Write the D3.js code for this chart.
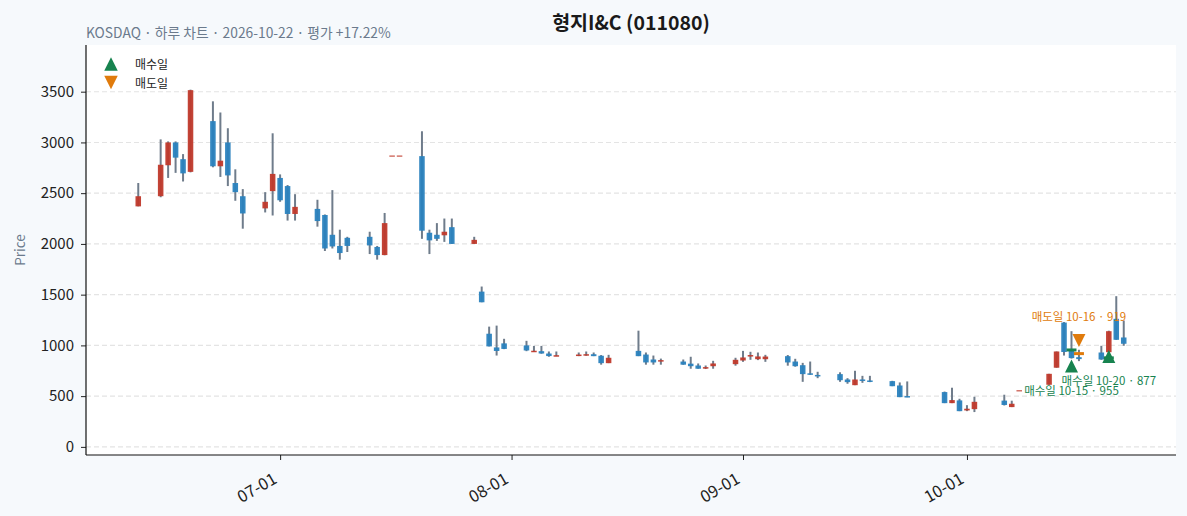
<!DOCTYPE html>
<html><head><meta charset="utf-8">
<script src="https://cdn.jsdelivr.net/npm/d3@7"></script>
<style>
html,body{margin:0;padding:0;background:#f6f9fc;}
svg{display:block;}
text{font-family:"Noto Sans CJK KR","Noto Sans",sans-serif;}
</style></head>
<body>
<svg id="chart" width="1187" height="516"></svg>
<script>
// ---- data ----
const dates = ["2026-06-12","2026-06-15","2026-06-16","2026-06-17","2026-06-18","2026-06-19","2026-06-22","2026-06-23","2026-06-24","2026-06-25","2026-06-26","2026-06-29","2026-06-30",
"2026-07-01","2026-07-02","2026-07-03","2026-07-06","2026-07-07","2026-07-08","2026-07-09","2026-07-10","2026-07-13","2026-07-14","2026-07-15","2026-07-16","2026-07-17","2026-07-20","2026-07-21","2026-07-22","2026-07-23","2026-07-24","2026-07-27","2026-07-28","2026-07-29","2026-07-30","2026-07-31",
"2026-08-03","2026-08-04","2026-08-05","2026-08-06","2026-08-07","2026-08-10","2026-08-11","2026-08-12","2026-08-13","2026-08-14","2026-08-18","2026-08-19","2026-08-20","2026-08-21","2026-08-24","2026-08-25","2026-08-26","2026-08-27","2026-08-28","2026-08-31",
"2026-09-01","2026-09-02","2026-09-03","2026-09-04","2026-09-07","2026-09-08","2026-09-09","2026-09-10","2026-09-11","2026-09-14","2026-09-15","2026-09-16","2026-09-17","2026-09-18","2026-09-21","2026-09-22","2026-09-23","2026-09-28","2026-09-29","2026-09-30",
"2026-10-01","2026-10-02","2026-10-06","2026-10-07","2026-10-08","2026-10-12","2026-10-13","2026-10-14","2026-10-15","2026-10-16","2026-10-19","2026-10-20","2026-10-21","2026-10-22"];
const open  = [2370,2470,2775,3000,2835,2710,3210,2765,3000,2600,2470,2350,2520,
2650,2570,2295,2345,2285,2090,1980,2060,2070,1970,1890,2865,2865,2865,2110,2090,2085,2165,2000,1530,1115,980,1020,
1000,938,943,920,894,895,900,913,898,825,946,910,861,845,841,820,802,776,795,815,
851,895,864,864,894,841,805,723,704,717,664,608,664,654,648,605,497,540,431,458,
359,372,456,392,553,612,780,1225,950,884,930,933,1262,1078];
const high  = [2600,3030,3010,3010,2885,3520,3405,3295,3140,2735,2540,2510,3090,
2685,2580,2490,2435,2290,2530,2140,2070,2120,1980,2305,2865,2865,3110,2140,2205,2250,2250,2070,1580,1185,1195,1065,
1045,995,995,940,940,930,940,930,905,907,1145,930,900,870,861,888,822,802,848,878,
946,937,930,907,905,868,828,841,740,735,677,750,700,700,651,635,645,545,583,474,
411,494,514,455,553,720,940,1230,1140,957,996,1145,1485,1245];
const low   = [2370,2460,2650,2700,2615,2705,2755,2660,2570,2425,2150,2310,2280,
2415,2230,2230,2170,1930,1955,1845,1920,1900,1845,1888,2865,2865,2050,1900,2030,2020,2000,2000,1425,990,900,963,
943,937,918,888,894,894,898,894,810,825,894,810,810,810,809,770,770,767,770,800,
838,858,855,838,800,790,641,710,677,641,622,608,631,638,598,490,490,431,431,352,
352,343,408,392,553,612,780,900,870,845,858,920,1055,996];
const close = [2470,2780,3000,2850,2695,3515,2765,2820,2675,2510,2300,2415,2690,
2430,2295,2365,2225,1955,1975,1910,1980,1985,1890,2205,2865,2865,2130,2035,2050,2120,2000,2040,1425,990,945,965,
950,942,920,895,898,910,912,894,825,878,894,832,832,850,810,795,770,781,822,858,
881,900,891,890,832,795,717,712,699,657,638,664,650,640,598,490,490,431,461,352,
376,444,413,425,553,720,940,935,875,865,861,1140,1055,1016];

const buyDates = ["2026-10-15","2026-10-20"];
const buyPrices = [955, 877];
const buyMarkerY = [797, 891];
const sellDates = ["2026-10-16"];
const sellPrices = [919];
const sellMarkerY = [1048];

const yTicks = [0,500,1000,1500,2000,2500,3000,3500];
const xTicks = ["2026-07-01","2026-08-01","2026-09-01","2026-10-01"];
const xDomain = ["2026-06-05","2026-10-29"];
const yDomain = [-80, 3960];

const title = "형지I&C (011080)";
const subtitle = "KOSDAQ · 하루 차트 · 2026-10-22 · 평가 +17.22%";

// ---- layout ----
const W = 1187, H = 516;
const M = {left:86, right:1176, top:45, bottom:455};
const UP = "#c0392b", DOWN = "#2a82be", WICK = "#6f7c8b";
const GREEN = "#17834f", ORANGE = "#e07b0c";

const parse = d3.utcParse("%Y-%m-%d");
const svg = d3.select("#chart");

svg.append("rect").attr("x",0).attr("y",0).attr("width",W).attr("height",H).attr("fill","#f6f9fc");
svg.append("rect").attr("x",M.left).attr("y",M.top).attr("width",M.right-M.left).attr("height",M.bottom-M.top).attr("fill","#ffffff");

const x = d3.scaleUtc().domain(xDomain.map(parse)).range([M.left, M.right]);
const y = d3.scaleLinear().domain(yDomain).range([M.bottom, M.top]);
const dayPx = x(parse("2026-06-06")) - x(parse("2026-06-05"));
const bw = dayPx * 0.74;

// grid
svg.append("g").selectAll("line").data(yTicks).join("line")
  .attr("x1",M.left).attr("x2",M.right)
  .attr("y1",d=>y(d)).attr("y2",d=>y(d))
  .attr("stroke","#e4e4e4").attr("stroke-width",1.1).attr("stroke-dasharray","5,3");

const candles = dates.map((d,i)=>({date:parse(d),o:open[i],h:high[i],l:low[i],c:close[i]}));

const g = svg.append("g");
// wicks
g.selectAll("line.wick").data(candles.filter(d=>d.h>d.l)).join("line").attr("class","wick")
  .attr("x1",d=>x(d.date)).attr("x2",d=>x(d.date))
  .attr("y1",d=>y(d.h)).attr("y2",d=>y(d.l))
  .attr("stroke",WICK).attr("stroke-width",2);
// bodies
g.selectAll("rect.body").data(candles).join("rect").attr("class","body")
  .attr("x",d=>x(d.date)-bw/2).attr("width",bw)
  .attr("y",d=>{const t=y(Math.max(d.o,d.c)), b=y(Math.min(d.o,d.c)); return (b-t<1.5)?(t+b)/2-0.75:t;})
  .attr("height",d=>Math.max(1.5, y(Math.min(d.o,d.c))-y(Math.max(d.o,d.c))))
  .attr("fill",d=>d.c>=d.o?UP:DOWN)
  .attr("opacity",d=>d.h===d.l?0.7:0.95);

// trade price bars
const barW = 10;
svg.append("g").selectAll("line").data(buyDates.map((d,i)=>({date:parse(d),p:buyPrices[i]}))).join("line")
  .attr("x1",d=>x(d.date)-barW/2).attr("x2",d=>x(d.date)+barW/2)
  .attr("y1",d=>y(d.p)).attr("y2",d=>y(d.p)).attr("stroke",GREEN).attr("stroke-width",3);
svg.append("g").selectAll("line").data(sellDates.map((d,i)=>({date:parse(d),p:sellPrices[i]}))).join("line")
  .attr("x1",d=>x(d.date)-barW/2).attr("x2",d=>x(d.date)+barW/2)
  .attr("y1",d=>y(d.p)).attr("y2",d=>y(d.p)).attr("stroke",ORANGE).attr("stroke-width",3);

// markers
const triUp = s => `M0,${-s/2}L${s/2},${s/2}L${-s/2},${s/2}Z`;
const triDown = s => `M0,${s/2}L${s/2},${-s/2}L${-s/2},${-s/2}Z`;
const MS = 13;
const fmtMD = d3.utcFormat("%m-%d");
const buys = buyDates.map((d,i)=>({date:parse(d),p:buyPrices[i],m:buyMarkerY[i]}));
const sells = sellDates.map((d,i)=>({date:parse(d),p:sellPrices[i],m:sellMarkerY[i]}));
svg.append("g").selectAll("path").data(buys).join("path")
  .attr("d",triUp(MS)).attr("transform",d=>`translate(${x(d.date)},${y(d.m)})`).attr("fill",GREEN);
svg.append("g").selectAll("path").data(sells).join("path")
  .attr("d",triDown(MS)).attr("transform",d=>`translate(${x(d.date)},${y(d.m)})`).attr("fill",ORANGE);

// annotations
svg.append("g").selectAll("text").data(buys).join("text")
  .attr("x",d=>x(d.date)).attr("y",d=>y(d.m)+24).attr("text-anchor","middle").attr("dominant-baseline","central")
  .attr("font-size",11.5).attr("fill",GREEN).text(d=>`매수일 ${fmtMD(d.date)} · ${d.p}`);
svg.append("g").selectAll("text").data(sells).join("text")
  .attr("x",d=>x(d.date)).attr("y",d=>y(d.m)-25).attr("text-anchor","middle").attr("dominant-baseline","central")
  .attr("font-size",11.5).attr("fill",ORANGE).text(d=>`매도일 ${fmtMD(d.date)} · ${d.p}`);

// axes
const yAxis = d3.axisLeft(y).tickValues(yTicks).tickSize(5).tickPadding(7).tickFormat(d3.format("d"));
const ya = svg.append("g").attr("transform",`translate(${M.left},0)`).call(yAxis);
ya.select(".domain").remove();
ya.selectAll("text").attr("font-size",15).attr("fill","#222");
ya.selectAll("line").attr("stroke","#222");

const xAxis = d3.axisBottom(x).tickValues(xTicks.map(parse)).tickSize(5).tickFormat(d3.utcFormat("%m-%d"));
const xa = svg.append("g").attr("transform",`translate(0,${M.bottom})`).call(xAxis);
xa.select(".domain").remove();
xa.selectAll("line").attr("stroke","#222");
xa.selectAll("text").attr("font-size",16.5).attr("fill","#222")
  .attr("text-anchor","end").attr("dy",null).attr("y",null)
  .attr("dominant-baseline","hanging")
  .attr("transform","translate(-10,14) rotate(-30)");

// spines
svg.append("line").attr("x1",M.left).attr("x2",M.left).attr("y1",M.top).attr("y2",M.bottom).attr("stroke","#111").attr("stroke-width",1.2);
svg.append("line").attr("x1",M.left).attr("x2",M.right).attr("y1",M.bottom).attr("y2",M.bottom).attr("stroke","#111").attr("stroke-width",1.2);

// labels
svg.append("text").attr("x",(M.left+M.right)/2).attr("y",21).attr("text-anchor","middle").attr("dominant-baseline","central")
  .attr("font-size",19.5).attr("font-weight","bold").attr("fill","#1a1a1a").text(title);
svg.append("text").attr("x",M.left).attr("y",32).attr("dominant-baseline","central")
  .attr("font-size",13.8).attr("fill","#6b7a8c").text(subtitle);
svg.append("text").attr("transform",`translate(19,${(M.top+M.bottom)/2}) rotate(-90)`).attr("text-anchor","middle").attr("dominant-baseline","central")
  .attr("font-size",13.5).attr("fill","#6b7a8c").text("Price");

// legend
const leg = svg.append("g");
leg.append("path").attr("d",triUp(13.5)).attr("transform","translate(111,64)").attr("fill",GREEN);
leg.append("path").attr("d",triDown(13.5)).attr("transform","translate(111,82.5)").attr("fill",ORANGE);
leg.append("text").attr("x",135).attr("y",63.5).attr("dominant-baseline","central").attr("font-size",12).attr("fill","#222").text("매수일");
leg.append("text").attr("x",135).attr("y",82).attr("dominant-baseline","central").attr("font-size",12).attr("fill","#222").text("매도일");
</script>
</body></html>
